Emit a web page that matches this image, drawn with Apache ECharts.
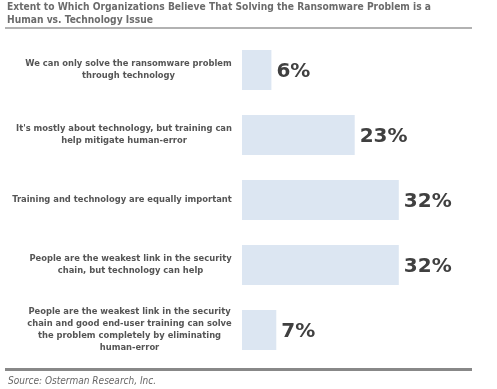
<!DOCTYPE html>
<html><head><meta charset="utf-8">
<script src="https://cdn.jsdelivr.net/npm/echarts@6/dist/echarts.min.js"></script>
<style>html,body{margin:0;padding:0;background:#fff}#c{width:497px;height:389px}</style>
</head><body><div id="c"></div>
<script>
var titleText = 'Extent to Which Organizations Believe That Solving the Ransomware Problem is a\nHuman vs. Technology Issue';
var sourceText = 'Source: Osterman Research, Inc.';
var categories = [
  'We can only solve the ransomware problem\nthrough technology',
  "It's mostly about technology, but training can\nhelp mitigate human-error",
  'Training and technology are equally important',
  'People are the weakest link in the security\nchain, but technology can help',
  'People are the weakest link in the security\nchain and good end-user training can solve\nthe problem completely by eliminating\nhuman-error'
];
var values = [6, 23, 32, 32, 7];

var labelFont = 'DejaVu Sans Condensed';
var labelSize = 9.3;
var cv = document.createElement('canvas').getContext('2d');
cv.font = 'bold ' + labelSize + 'px "' + labelFont + '"';
var rich = {};
categories.forEach(function (c, i) {
  var w = 0;
  c.split('\n').forEach(function (l) { w = Math.max(w, cv.measureText(l).width); });
  rich['c' + i] = { width: Math.ceil(w), align: 'center', fontFamily: labelFont, fontSize: labelSize,
    fontWeight: 'bold', color: '#555', lineHeight: 12 };
});

var chart = echarts.init(document.getElementById('c'), null, { renderer: 'canvas' });
chart.setOption({
  animation: false,
  title: [
    { text: titleText, left: 7, top: 1, padding: 0,
      textStyle: { fontFamily: labelFont, fontSize: 10.2, fontWeight: 'bold', color: '#6b6b6b', lineHeight: 13 } },
    { text: sourceText, left: 8, top: 375, padding: 0,
      textStyle: { fontFamily: labelFont, fontSize: 10, fontWeight: 'normal', fontStyle: 'italic', color: '#666', lineHeight: 12 } }
  ],
  graphic: [
    { type: 'line', shape: { x1: 5, y1: 28, x2: 472, y2: 28 }, style: { stroke: '#999', lineWidth: 1.5 } },
    { type: 'line', shape: { x1: 5, y1: 369.5, x2: 472, y2: 369.5 }, style: { stroke: '#888', lineWidth: 3 } }
  ],
  grid: { left: 242, right: 10, top: 37.5, height: 325, containLabel: false, outerBoundsMode: 'none' },
  xAxis: { type: 'value', min: 0, max: 50, show: false },
  yAxis: {
    type: 'category', data: categories, inverse: true,
    axisLine: { show: false }, axisTick: { show: false }, splitLine: { show: false },
    axisLabel: {
      margin: 10, align: 'right',
      formatter: function (v, i) {
        return v.split('\n').map(function (l) { return '{c' + i + '|' + l + '}'; }).join('\n');
      },
      rich: rich
    }
  },
  series: [{
    type: 'bar', data: values, barWidth: 40,
    itemStyle: { color: '#dce6f2' },
    label: { show: true, position: 'right', distance: 5, formatter: '{c}%',
      fontFamily: 'DejaVu Sans', fontSize: 20, fontWeight: 'bold', color: '#404040', offset: [0, 2] }
  }]
});
</script></body></html>
